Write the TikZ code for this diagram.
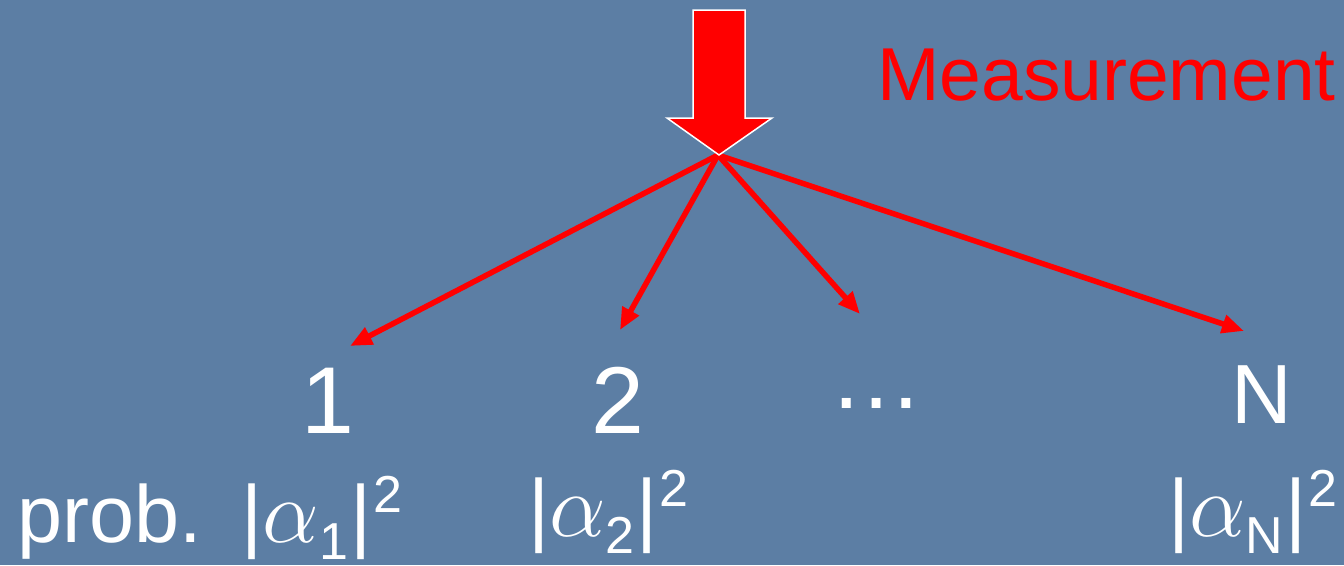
\RequirePackage{fix-cm}
\documentclass[tikz,border=0pt]{standalone}
\usepackage{fontspec}
\setmainfont{Liberation Sans}
\usetikzlibrary{arrows.meta,positioning}
\definecolor{slate}{RGB}{92,126,164}
\newcommand{\fsz}[1]{\fontsize{#1}{#1}\selectfont}
\newcommand{\amp}[1]{|{\fsz{90}$\alpha$}\raisebox{-17pt}{\fsz{52}#1}\kern2pt|\kern2pt\raisebox{30pt}{\fsz{52}2}}

\begin{document}
\begin{tikzpicture}[x=1pt,y=-1pt,
    lbl/.style={text=white, inner sep=0pt, anchor=base},
    arr/.style={-{Triangle[length=22pt,width=18pt]}, line width=5.5pt, red}
]
\fill[slate] (0,0) rectangle (1344,565);
\useasboundingbox (0,0) rectangle (1344,565);

\coordinate (src) at (718,155);
\coordinate (e1) at (350,346);
\coordinate (e2) at (620,330);
\coordinate (e3) at (860,314);
\coordinate (eN) at (1244,331);

\node[lbl, text=red, anchor=base west, font={\fsz{75}}] (meas) at (877,100) {Measurement};

\node[lbl, font={\fsz{95}}] (one) at (328,433) {1};
\node[lbl, font={\fsz{95}}] (two) at (618,433) {2};
\node[lbl, font={\fsz{94}}] (dots) at (876,408) {…};
\node[lbl, font={\fsz{84}}] (enn) at (1262,423) {N};

\node[lbl, anchor=base west, font={\fsz{81}}] (p1) at (17,542) {prob.\hspace{40pt}\amp{1}};
\node[lbl, anchor=base west, font={\fsz{81}}] (p2) at (528,536) {\amp{2}};
\node[lbl, anchor=base west, font={\fsz{81}}] (pN) at (1168,536) {\amp{N}};

\draw[arr] (src) -- (e1);
\draw[arr] (src) -- (e2);
\draw[arr] (src) -- (e3);
\draw[arr] (src) -- (eN);

% block arrow
\draw[fill=red, draw=white, line width=1.5pt, line join=miter]
  (693,10) -- (745,10) -- (745,118) -- (772,118) -- (719,155) -- (667,118) -- (693,118) -- cycle;
\end{tikzpicture}
\end{document}
